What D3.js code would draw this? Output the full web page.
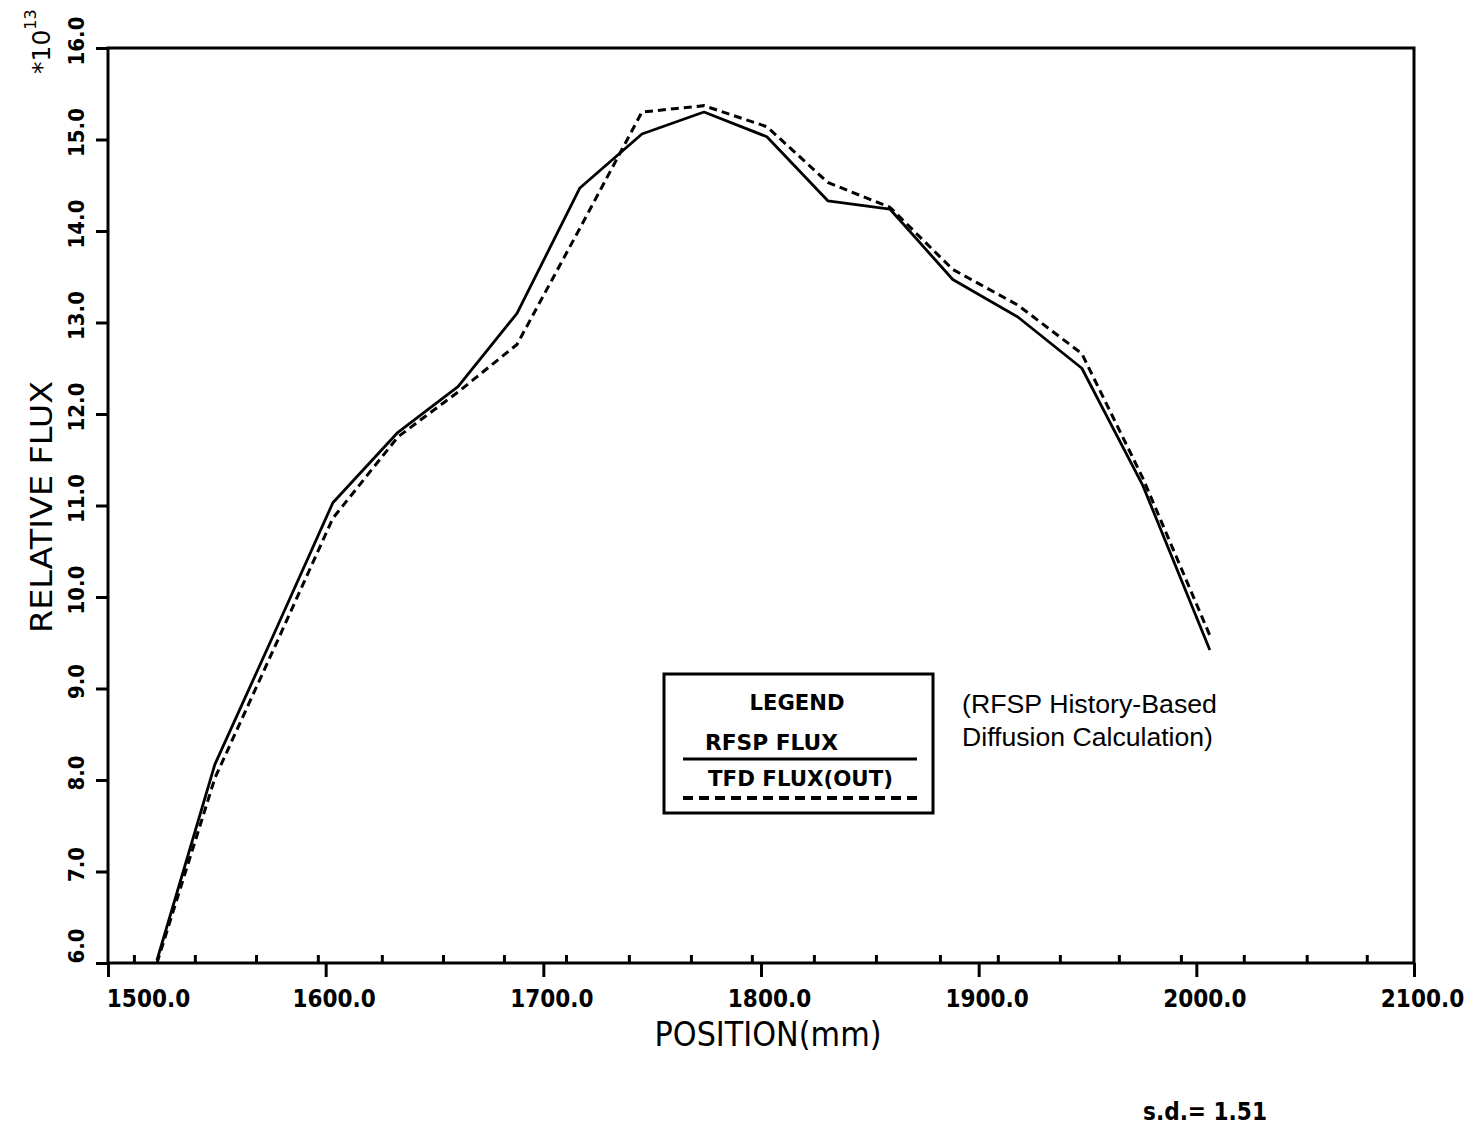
<!DOCTYPE html>
<html>
<head>
<meta charset="utf-8">
<script src="https://cdn.jsdelivr.net/npm/d3@7"></script>
<style>
  body { margin: 0; background: #fff; }
  svg { display: block; }
  .axis text { font-family: 'DejaVu Sans Condensed', 'DejaVu Sans', sans-serif; font-weight: bold; fill: #000; }
  .axis line { stroke: #000; stroke-width: 3; }
</style>
</head>
<body>
<svg id="chart" width="1475" height="1126"></svg>
<script>
// positions (mm) of the plotted points
const positions = [1522.5, 1549.1, 1576.7, 1603.3, 1633.2, 1660.8, 1687.9, 1716.8, 1745.3,
  1773.8, 1802.7, 1830.7, 1859.2, 1888.1, 1918.0, 1947.4, 1975.4, 2006.2];
// relative flux, x 10^13
const rfspFlux = [6.03, 8.17, 9.62, 11.03, 11.80, 12.30, 13.10, 14.47, 15.06,
  15.30, 15.03, 14.33, 14.24, 13.47, 13.06, 12.50, 11.22, 9.42];
const tfdFlux = [6.00, 8.02, 9.46, 10.86, 11.75, 12.24, 12.76, 14.03, 15.30,
  15.37, 15.14, 14.53, 14.26, 13.58, 13.19, 12.66, 11.30, 9.58];

const xTicks = [1500, 1600, 1700, 1800, 1900, 2000, 2100];
const yTicks = [6, 7, 8, 9, 10, 11, 12, 13, 14, 15, 16];
const minorTicks = [1511.9, 1539.9, 1568.0, 1596.4, 1625.8, 1653.9, 1681.9, 1710.4, 1739.3,
  1767.8, 1795.8, 1824.3, 1852.8, 1882.2, 1908.8, 1937.3, 1964.4, 1992.9, 2021.8, 2050.7, 2078.3];

const legendItems = ['RFSP FLUX', 'TFD FLUX(OUT)'];
const noteLines = ['(RFSP History-Based', 'Diffusion Calculation)'];

const svg = d3.select('#chart');
svg.append('rect').attr('width', 1475).attr('height', 1126).attr('fill', '#fff');

const x = d3.scaleLinear().domain([1500, 2100]).range([108, 1414]);
const y = d3.scaleLinear().domain([6, 16]).range([963, 48]);
const fmt = d3.format('.1f');

// frame
svg.append('rect')
  .attr('x', x(1500))
  .attr('y', y(16))
  .attr('width', x(2100) - x(1500))
  .attr('height', y(6) - y(16))
  .attr('fill', 'none')
  .attr('stroke', '#000')
  .attr('stroke-width', 3);

// bottom axis, major ticks point down
svg.append('g')
  .attr('class', 'axis')
  .attr('transform', `translate(0, ${y(6)})`)
  .call(d3.axisBottom(x).tickValues(xTicks).tickSize(14).tickPadding(13).tickFormat(fmt))
  .call(g => g.select('.domain').remove())
  .call(g => g.selectAll('text')
    .attr('font-size', 24)
    .attr('dx', (d, i) => (i === 0 ? 40 : 8)));

// minor ticks point up into the plot
svg.append('g')
  .attr('class', 'axis')
  .attr('transform', `translate(0, ${y(6)})`)
  .call(d3.axisTop(x).tickValues(minorTicks).tickSize(8).tickFormat(''))
  .call(g => g.select('.domain').remove())
  .call(g => g.selectAll('line').attr('stroke-width', 2.5));

// left axis ticks
svg.append('g')
  .attr('class', 'axis')
  .attr('transform', `translate(${x(1500)}, 0)`)
  .call(d3.axisLeft(y).tickValues(yTicks).tickSize(12).tickFormat(''))
  .call(g => g.select('.domain').remove());

// rotated y tick labels
svg.append('g')
  .attr('class', 'axis')
  .selectAll('text')
  .data(yTicks)
  .join('text')
  .attr('transform', (d, i) => `translate(84, ${y(d) - (i === 0 ? 17 : 7)}) rotate(-90)`)
  .attr('text-anchor', 'middle')
  .attr('font-size', 22)
  .text(fmt);

// exponent label
const expo = svg.append('text')
  .attr('transform', 'translate(50, 74) rotate(-90)')
  .attr('font-family', 'DejaVu Sans, sans-serif')
  .attr('font-size', 25);
expo.append('tspan').text('*10');
expo.append('tspan').attr('dy', -14).attr('font-size', 16).text('13');

// axis titles
svg.append('text')
  .attr('transform', 'translate(52, 507) rotate(-90)')
  .attr('text-anchor', 'middle')
  .attr('font-family', 'DejaVu Sans, sans-serif')
  .attr('font-size', 30)
  .attr('textLength', 252)
  .attr('lengthAdjust', 'spacingAndGlyphs')
  .text('RELATIVE FLUX');

svg.append('text')
  .attr('x', 768)
  .attr('y', 1046)
  .attr('text-anchor', 'middle')
  .attr('font-family', 'DejaVu Sans, sans-serif')
  .attr('font-size', 34)
  .attr('textLength', 227)
  .attr('lengthAdjust', 'spacingAndGlyphs')
  .text('POSITION(mm)');

// curves
const line = d3.line()
  .x((d, i) => x(positions[i]))
  .y(d => y(d));

svg.append('path')
  .datum(rfspFlux)
  .attr('fill', 'none')
  .attr('stroke', '#000')
  .attr('stroke-width', 2.8)
  .attr('stroke-linejoin', 'round')
  .attr('d', line);

svg.append('path')
  .datum(tfdFlux)
  .attr('fill', 'none')
  .attr('stroke', '#000')
  .attr('stroke-width', 3)
  .attr('stroke-dasharray', '8,5')
  .attr('d', line);

// legend
const legend = svg.append('g')
  .attr('font-family', 'DejaVu Sans Condensed, DejaVu Sans, sans-serif')
  .attr('font-weight', 'bold')
  .attr('font-size', 22);

legend.append('rect')
  .attr('x', 664)
  .attr('y', 674)
  .attr('width', 269)
  .attr('height', 139)
  .attr('fill', '#fff')
  .attr('stroke', '#000')
  .attr('stroke-width', 3);

legend.append('text')
  .attr('x', 797)
  .attr('y', 710)
  .attr('text-anchor', 'middle')
  .attr('textLength', 95)
  .attr('lengthAdjust', 'spacingAndGlyphs')
  .text('LEGEND');

legend.selectAll('.item')
  .data(legendItems)
  .join('text')
  .attr('class', 'item')
  .attr('x', (d, i) => (i === 0 ? 705 : 708))
  .attr('y', (d, i) => 750 + i * 36)
  .attr('textLength', (d, i) => (i === 0 ? 133 : 185))
  .attr('lengthAdjust', 'spacingAndGlyphs')
  .text(d => d);

legend.selectAll('.swatch')
  .data(legendItems)
  .join('line')
  .attr('class', 'swatch')
  .attr('x1', 683)
  .attr('x2', 917)
  .attr('y1', (d, i) => 759 + i * 39)
  .attr('y2', (d, i) => 759 + i * 39)
  .attr('stroke', '#000')
  .attr('stroke-width', (d, i) => (i === 0 ? 3 : 4))
  .attr('stroke-dasharray', (d, i) => (i === 0 ? null : '10,6'));

// note beside the legend
svg.append('g')
  .selectAll('text')
  .data(noteLines)
  .join('text')
  .attr('x', 962)
  .attr('y', (d, i) => 713 + i * 33)
  .attr('font-family', 'Liberation Sans, Arial, sans-serif')
  .attr('font-size', 25)
  .attr('textLength', (d, i) => (i === 0 ? 255 : 251))
  .attr('lengthAdjust', 'spacingAndGlyphs')
  .text(d => d);

svg.append('text')
  .attr('x', 1143)
  .attr('y', 1120)
  .attr('font-family', 'DejaVu Sans Condensed, DejaVu Sans, sans-serif')
  .attr('font-weight', 'bold')
  .attr('font-size', 25)
  .attr('textLength', 124)
  .attr('lengthAdjust', 'spacingAndGlyphs')
  .text('s.d.= 1.51');
</script>
</body>
</html>
